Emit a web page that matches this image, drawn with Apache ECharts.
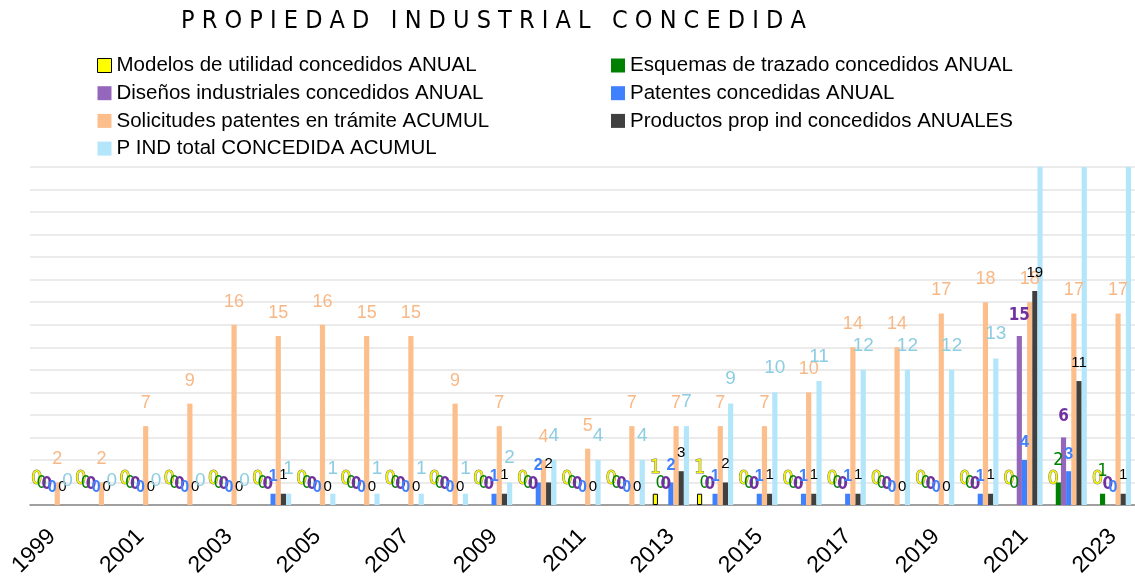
<!DOCTYPE html>
<html>
<head>
<meta charset="utf-8">
<script src="https://cdn.jsdelivr.net/npm/echarts@6/dist/echarts.min.js"></script>
<style>
html,body{margin:0;padding:0;background:#fff;}
#c{width:1135px;height:581px;}
</style>
</head>
<body>
<div id="c"></div>
<script>
const TITLE = 'P R O P I E D A D   I N D U S T R I A L   C O N C E D I D A';
const years = ['1999','2000','2001','2002','2003','2004','2005','2006','2007','2008','2009','2010','2011','2012','2013','2014','2015','2016','2017','2018','2019','2020','2021','2022','2023'];
const seriesNames = [
  'Modelos de utilidad concedidos ANUAL',
  'Esquemas de trazado concedidos ANUAL',
  'Diseños industriales concedidos ANUAL',
  'Patentes concedidas ANUAL',
  'Solicitudes patentes en trámite ACUMUL',
  'Productos prop ind concedidos ANUALES',
  'P IND total CONCEDIDA ACUMUL'
];
const modelos     = [0,0,0,0,0,0,0,0,0,0,0,0,0,0,1,1,0,0,0,0,0,0,0,0,0];
const esquemas    = [0,0,0,0,0,0,0,0,0,0,0,0,0,0,0,0,0,0,0,0,0,0,0,2,1];
const disenos     = [0,0,0,0,0,0,0,0,0,0,0,0,0,0,0,0,0,0,0,0,0,0,15,6,0];
const patentes    = [0,0,0,0,0,1,0,0,0,0,1,2,0,0,2,1,1,1,1,0,0,1,4,3,0];
const solicitudes = [2,2,7,9,16,15,16,15,15,9,7,4,5,7,7,7,7,10,14,14,17,18,18,17,17];
const productos   = [0,0,0,0,0,1,0,0,0,0,1,2,0,0,3,2,1,1,1,0,0,1,19,11,1];
const pindTotal   = [0,0,0,0,0,1,1,1,1,1,2,4,4,4,7,9,10,11,12,12,12,13,32,43,44];
const Y_MAX = 30, Y_INTERVAL = 2;

const NARROW = "'Liberation Sans Narrow','DejaVu Sans Condensed','Liberation Sans',sans-serif";
const SANS = "'Liberation Sans',Arial,sans-serif";

const styles = [
  {data: modelos, color:'#ffff00', border:'#000', label:{color:'#f5f500', textBorderColor:'#777', textBorderWidth:1, fontFamily:NARROW, fontSize:19, distance:16}},
  {data: esquemas, color:'#008000', label:{color:'#008000', fontFamily:NARROW, fontSize:18, distance:13}},
  {data: disenos, color:'#9467bd', label:{color:'#7030a0', fontFamily:NARROW, fontWeight:'bold', fontSize:17, distance:12}},
  {data: patentes, color:'#3f80ff', label:{color:'#3f80ff', fontFamily:SANS, fontWeight:'bold', fontSize:16, distance:9}},
  {data: solicitudes, color:'#fcbf8c', label:{color:'#f8b886', fontFamily:SANS, fontSize:18, distance:14}},
  {data: productos, color:'#404040', label:{color:'#000', fontFamily:SANS, fontSize:15, distance:11}},
  {data: pindTotal, color:'#b3e6fa', label:{color:'#8ccde2', fontFamily:SANS, fontSize:19, distance:15}}
];

const series = styles.map((s, i) => ({
  name: seriesNames[i],
  type: 'bar',
  data: s.data.map(v => (s.border && v !== 0) ? {value: v, itemStyle: {borderColor: s.border, borderWidth: 1}} : v),
  barGap: '0%',
  barCategoryGap: '18%',
  clip: true,
  itemStyle: {color: s.color},
  label: Object.assign({
    show: true,
    position: 'top',
    formatter: p => (p.value > Y_MAX ? '' : String(p.value))
  }, s.label)
}));

const legendCommon = {
  orient: 'vertical',
  icon: 'rect',
  padding: 0,
  itemWidth: 14,
  itemHeight: 14,
  itemGap: 6.7,
  textStyle: {fontSize: 20.5, fontFamily: SANS, color: '#000', lineHeight: 20},
  selectedMode: false
};

const chart = echarts.init(document.getElementById('c'), null, {renderer: 'canvas'});
chart.setOption({
  animation: false,
  backgroundColor: '#fff',
  title: {
    text: TITLE,
    left: 181,
    top: 9,
    padding: 0,
    textStyle: {fontSize: 25, fontWeight: 'normal', fontFamily: NARROW, color: '#000'}
  },
  legend: [
    Object.assign({}, legendCommon, {left: 97, top: 55, data: [
      {name: seriesNames[0], itemStyle: {borderColor: '#000', borderWidth: 1}},
      seriesNames[2], seriesNames[4], seriesNames[6]]}),
    Object.assign({}, legendCommon, {left: 611, top: 55, data: [seriesNames[1], seriesNames[3], seriesNames[5]]})
  ],
  grid: {left: 30, right: 0, top: 167, bottom: 76, containLabel: false},
  xAxis: {
    type: 'category',
    data: years,
    axisLine: {lineStyle: {color: '#888', width: 1.5}},
    axisTick: {alignWithLabel: true, interval: 0, length: 5, lineStyle: {color: '#888'}},
    axisLabel: {interval: 1, rotate: 45, fontSize: 23, fontFamily: SANS, color: '#000', margin: 28}
  },
  yAxis: {
    type: 'value',
    min: 0,
    max: Y_MAX,
    interval: Y_INTERVAL,
    axisLabel: {show: false},
    axisLine: {show: false},
    axisTick: {show: false},
    splitLine: {lineStyle: {color: '#e4e4e4', width: 1.5}}
  },
  series: series
});
</script>
</body>
</html>
